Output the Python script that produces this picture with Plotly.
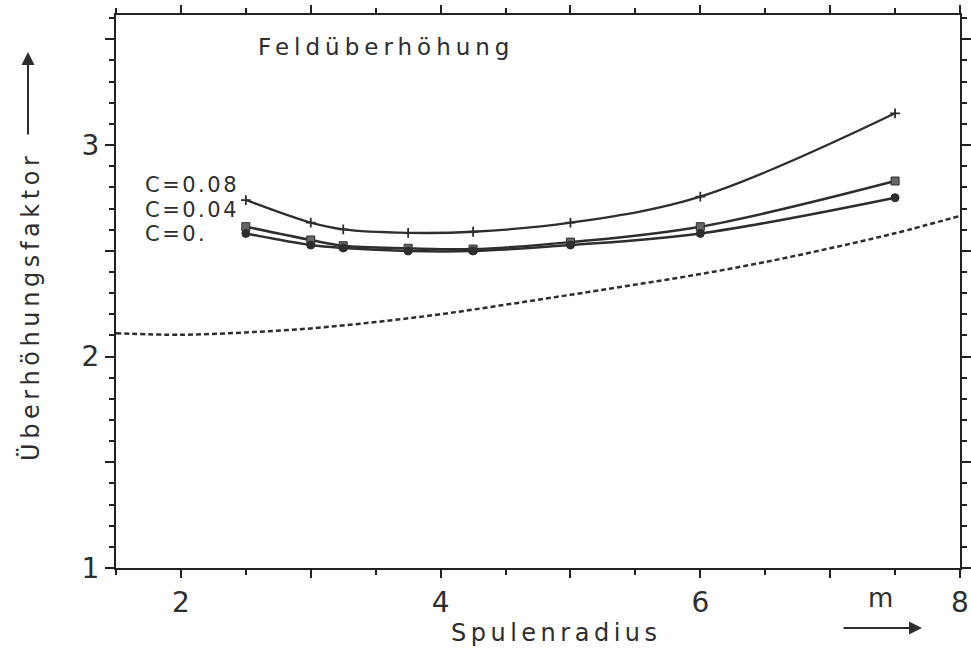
import plotly.graph_objects as go

# ---- data ----
radius = [2.5, 3.0, 3.25, 3.75, 4.25, 5.0, 6.0, 7.5]
c008 = [2.740, 2.633, 2.601, 2.585, 2.590, 2.633, 2.756, 3.150]
c004 = [2.614, 2.551, 2.524, 2.512, 2.508, 2.541, 2.614, 2.830]
c000 = [2.582, 2.527, 2.513, 2.499, 2.499, 2.527, 2.582, 2.751]

ref_x = [1.5, 2.0, 2.5, 3.0, 3.5, 4.0, 4.5, 5.0, 5.5, 6.0, 6.5, 7.0, 7.5, 8.0]
ref_y = [2.110, 2.103, 2.114, 2.133, 2.163, 2.200, 2.245, 2.292, 2.340, 2.390,
         2.447, 2.512, 2.583, 2.665]

x_tickvals = [2, 3, 4, 5, 6, 7, 8]
x_ticktext = ["2", "", "4", "", "6", "", "8"]
y_tickvals = [1.0, 1.5, 2.0, 2.5, 3.0, 3.5]
y_ticktext = ["1", "", "2", "", "3", ""]

series_labels = ["C=0.08", "C=0.04", "C=0."]
title_text = "Feldüberhöhung"
x_title = "Spulenradius"
y_title = "Überhöhungsfaktor"
x_unit = "m"

INK = "#2e2e2e"
FONT = "DejaVu Sans"

fig = go.Figure()

fig.add_trace(go.Scatter(
    x=ref_x, y=ref_y, mode="lines", line=dict(color=INK, width=2.5, dash="5px,3px", shape="spline"),
    hoverinfo="skip"))
fig.add_trace(go.Scatter(
    x=radius, y=c008, mode="lines+markers", line=dict(color=INK, width=2.3, shape="spline"),
    marker=dict(symbol="cross-thin", size=7, line=dict(color=INK, width=1.8))))
fig.add_trace(go.Scatter(
    x=radius, y=c004, mode="lines+markers", line=dict(color=INK, width=2.5, shape="spline"),
    marker=dict(symbol="square", size=8, color="#666666", line=dict(color=INK, width=1))))
fig.add_trace(go.Scatter(
    x=radius, y=c000, mode="lines+markers", line=dict(color=INK, width=2.5, shape="spline"),
    marker=dict(symbol="circle", size=8, color=INK, line=dict(color=INK, width=1))))

axis_common = dict(
    showgrid=False, zeroline=False, showline=True, linecolor="#222222", linewidth=2,
    ticks="outside", tickcolor="#222222", tickwidth=2, mirror="ticks", automargin=False,
    tickfont=dict(family=FONT, size=28, color=INK),
)

fig.update_xaxes(
    range=[1.5, 8.0], tickmode="array", tickvals=x_tickvals, ticktext=x_ticktext,
    ticklen=8, minor=dict(dtick=0.5, ticklen=5, tickwidth=1.5, tickcolor="#222222", ticks="outside"),
    **axis_common)
fig.update_yaxes(
    range=[1.0, 3.615], tickmode="array", tickvals=y_tickvals, ticktext=y_ticktext,
    ticklen=9, minor=dict(dtick=0.1, ticklen=5, tickwidth=1.5, tickcolor="#222222", ticks="outside"),
    **axis_common)

L, R, T, B = 116, 960, 15, 568
W, H = R - L, B - T


def px(x):
    return (x - L) / W


def py(y):
    return (B - y) / H


def spaced(t, s):
    return f'<span style="letter-spacing:{s}px">{t}</span>'


ann = []
ann.append(dict(x=px(256), y=py(47), text=spaced(title_text, 5), xanchor="left", yanchor="middle",
                font=dict(family=FONT, size=23, color=INK)))
for lbl, yy in zip(series_labels, [185, 210, 234]):
    ann.append(dict(x=px(143), y=py(yy), text=spaced(lbl, 2.5), xanchor="left", yanchor="middle",
                    font=dict(family=FONT, size=21, color=INK)))
ann.append(dict(x=px(556), y=py(633), text=spaced(x_title, 4.5), xanchor="center", yanchor="middle",
                font=dict(family=FONT, size=24, color=INK)))
ann.append(dict(x=px(30), y=py(306), text=spaced(y_title, 4.6), textangle=-90, xanchor="center",
                yanchor="middle", font=dict(family=FONT, size=24, color=INK)))
ann.append(dict(x=px(880), y=py(598), text=x_unit, xanchor="center", yanchor="middle",
                font=dict(family=FONT, size=26, color=INK)))
# arrows
ann.append(dict(x=px(28), y=py(52), ax=0, ay=84, text="", showarrow=True, arrowhead=2,
                arrowsize=1.3, arrowwidth=2, arrowcolor=INK))
ann.append(dict(x=px(922), y=py(628), ax=-80, ay=0, text="", showarrow=True, arrowhead=2,
                arrowsize=1.3, arrowwidth=2, arrowcolor=INK))
for a in ann:
    a.setdefault("xref", "paper")
    a.setdefault("yref", "paper")
    a.setdefault("showarrow", False)

fig.update_layout(
    width=971, height=650, margin=dict(l=L, r=971 - R, t=T, b=650 - B, autoexpand=False),
    plot_bgcolor="white", paper_bgcolor="white", showlegend=False,
    annotations=ann, font=dict(family=FONT, color=INK),
)

fig.write_html("out.html")
